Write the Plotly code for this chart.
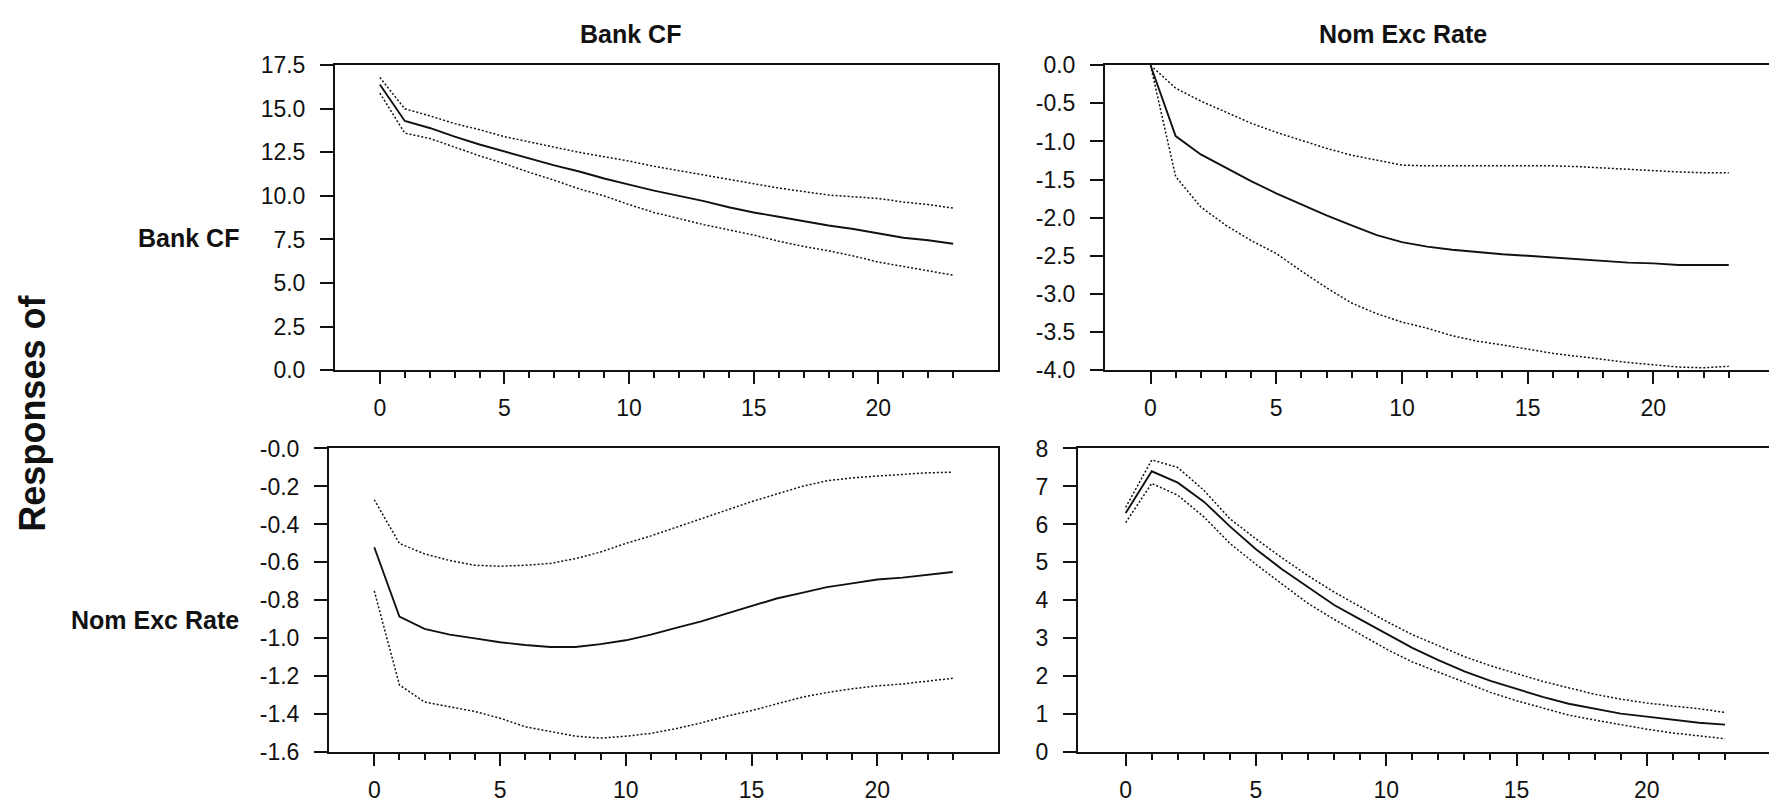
import plotly.graph_objects as go

W, H = 1769, 806

horizon = list(range(24))

# Response of Bank CF to Bank CF shock
bcf_bcf = [16.4, 14.3, 13.9, 13.4, 12.95, 12.55, 12.15, 11.75, 11.4, 11.0, 10.65, 10.3,
           10.0, 9.7, 9.35, 9.05, 8.8, 8.55, 8.3, 8.1, 7.85, 7.6, 7.45, 7.25]
bcf_bcf_hi = [16.8, 15.0, 14.6, 14.15, 13.8, 13.4, 13.1, 12.8, 12.5, 12.25, 12.0, 11.7,
              11.45, 11.2, 10.95, 10.7, 10.45, 10.25, 10.05, 9.95, 9.85, 9.65, 9.5, 9.3]
bcf_bcf_lo = [15.9, 13.6, 13.3, 12.8, 12.3, 11.85, 11.35, 10.9, 10.4, 10.0, 9.5, 9.05,
              8.7, 8.35, 8.05, 7.75, 7.4, 7.1, 6.85, 6.55, 6.2, 5.95, 5.7, 5.45]

# Response of Bank CF to Nom Exc Rate shock
bcf_ner = [0.0, -0.93, -1.17, -1.35, -1.52, -1.68, -1.83, -1.97, -2.10, -2.23, -2.32, -2.38,
           -2.42, -2.45, -2.48, -2.50, -2.52, -2.55, -2.57, -2.59, -2.60, -2.62, -2.62, -2.62]
bcf_ner_hi = [0.0, -0.30, -0.47, -0.62, -0.76, -0.88, -0.99, -1.09, -1.18, -1.25, -1.31, -1.32,
              -1.32, -1.32, -1.32, -1.32, -1.32, -1.33, -1.35, -1.36, -1.38, -1.40, -1.41, -1.41]
bcf_ner_lo = [0.0, -1.46, -1.86, -2.10, -2.30, -2.47, -2.70, -2.92, -3.12, -3.26, -3.37, -3.45,
              -3.55, -3.62, -3.67, -3.73, -3.78, -3.82, -3.86, -3.90, -3.93, -3.96, -3.97, -3.95]

# Response of Nom Exc Rate to Bank CF shock
ner_bcf = [-0.52, -0.885, -0.95, -0.98, -1.0, -1.02, -1.035, -1.045, -1.045, -1.03, -1.01, -0.98,
           -0.945, -0.91, -0.87, -0.83, -0.79, -0.76, -0.73, -0.71, -0.69, -0.68, -0.665, -0.65]
ner_bcf_hi = [-0.27, -0.50, -0.555, -0.59, -0.615, -0.62, -0.615, -0.605, -0.58, -0.545, -0.5, -0.46,
              -0.415, -0.37, -0.325, -0.28, -0.24, -0.2, -0.17, -0.155, -0.145, -0.135, -0.128, -0.125]
ner_bcf_lo = [-0.75, -1.245, -1.335, -1.36, -1.385, -1.42, -1.465, -1.49, -1.515, -1.525, -1.515, -1.5,
              -1.475, -1.445, -1.41, -1.38, -1.345, -1.31, -1.285, -1.265, -1.25, -1.24, -1.225, -1.21]

# Response of Nom Exc Rate to Nom Exc Rate shock
ner_ner = [6.3, 7.4, 7.1, 6.6, 5.95, 5.35, 4.82, 4.35, 3.88, 3.5, 3.12, 2.75,
           2.43, 2.13, 1.88, 1.66, 1.46, 1.28, 1.15, 1.02, 0.94, 0.86, 0.78, 0.73]
ner_ner_hi = [6.45, 7.7, 7.5, 6.9, 6.15, 5.62, 5.12, 4.65, 4.22, 3.83, 3.45, 3.1,
              2.8, 2.52, 2.28, 2.07, 1.87, 1.7, 1.53, 1.4, 1.3, 1.22, 1.15, 1.05]
ner_ner_lo = [6.05, 7.08, 6.77, 6.2, 5.5, 4.95, 4.43, 3.92, 3.5, 3.1, 2.72, 2.38,
              2.12, 1.84, 1.58, 1.36, 1.16, 0.98, 0.85, 0.72, 0.61, 0.51, 0.44, 0.36]

shock_names = ["Bank CF", "Nom Exc Rate"]
response_names = ["Bank CF", "Nom Exc Rate"]

tl_ticks = [0.0, 2.5, 5.0, 7.5, 10.0, 12.5, 15.0, 17.5]
tr_ticks = [0.0, -0.5, -1.0, -1.5, -2.0, -2.5, -3.0, -3.5, -4.0]
bl_ticks = [0.0, -0.2, -0.4, -0.6, -0.8, -1.0, -1.2, -1.4, -1.6]
bl_text = ["-0.0", "-0.2", "-0.4", "-0.6", "-0.8", "-1.0", "-1.2", "-1.4", "-1.6"]
br_ticks = [0, 1, 2, 3, 4, 5, 6, 7, 8]

FONT = "Arial, Liberation Sans, sans-serif"
INK = "#111111"


def px_x(p):
    return p / W


def px_y(p):
    return 1 - p / H


# panel layout in pixels: horizontal span, vertical span (top, bottom), axis ranges
panels = [
    dict(x=(335, 998), y=(54, 369), xr=[-1.8, 24.8], yr=[0, 17.5], mid=bcf_bcf, hi=bcf_bcf_hi, lo=bcf_bcf_lo,
         tv=tl_ticks, tt=[f"{v:.1f}" for v in tl_ticks], box=True),
    dict(x=(1105, 1769), y=(54, 369), xr=[-1.81, 24.6], yr=[-4, 0], mid=bcf_ner, hi=bcf_ner_hi, lo=bcf_ner_lo,
         tv=tr_ticks, tt=[f"{v:.1f}" for v in tr_ticks], box=False),
    dict(x=(329, 998), y=(450, 764), xr=[-1.8, 24.8], yr=[-1.6, 0], mid=ner_bcf, hi=ner_bcf_hi, lo=ner_bcf_lo,
         tv=bl_ticks, tt=bl_text, box=True),
    dict(x=(1078, 1769), y=(450, 764), xr=[-1.83, 24.69], yr=[0, 8], mid=ner_ner, hi=ner_ner_hi, lo=ner_ner_lo,
         tv=br_ticks, tt=[str(v) for v in br_ticks], box=False),
]

fig = go.Figure()
layout = dict(
    width=W, height=H, margin=dict(l=0, r=0, t=0, b=0),
    paper_bgcolor="white", plot_bgcolor="white", showlegend=False,
    font=dict(family=FONT, size=23, color=INK),
)

for i, p in enumerate(panels, start=1):
    xa = "xaxis" if i == 1 else f"xaxis{i}"
    ya = "yaxis" if i == 1 else f"yaxis{i}"
    xref = "x" if i == 1 else f"x{i}"
    yref = "y" if i == 1 else f"y{i}"
    layout[xa] = dict(
        domain=[px_x(p["x"][0]), px_x(p["x"][1])], range=p["xr"], anchor=yref,
        showgrid=False, zeroline=False, showline=True, linecolor=INK, linewidth=2, mirror=True,
        tickmode="array", tickvals=[0, 5, 10, 15, 20], ticks="outside", ticklen=12, tickwidth=1.5,
        tickcolor=INK, ticklabelstandoff=4,
        minor=dict(tickmode="array", tickvals=horizon, ticks="outside", ticklen=6, tickwidth=1.5,
                   tickcolor=INK, showgrid=False),
    )
    layout[ya] = dict(
        domain=[px_y(p["y"][1]), px_y(p["y"][0])], range=p["yr"], anchor=xref,
        showgrid=False, zeroline=False, showline=True, linecolor=INK, linewidth=2,
        mirror=p["box"], tickmode="array", tickvals=p["tv"], ticktext=p["tt"],
        ticks="outside", ticklen=13, tickwidth=1.5, tickcolor=INK, ticklabelstandoff=10,
    )
    for series, dash, width in ((p["hi"], "2px,2px", 1.5), (p["lo"], "2px,2px", 1.5), (p["mid"], "solid", 1.9)):
        fig.add_trace(go.Scatter(x=horizon, y=series, mode="lines", xaxis=xref, yaxis=yref,
                                 line=dict(color=INK, width=width, dash=dash)))

bold = dict(family=FONT, size=25, color=INK)
annotations = [
    dict(text=f"<b>{shock_names[0]}</b>", x=px_x(630), y=px_y(22), xref="paper", yref="paper",
         showarrow=False, font=bold, xanchor="center", yanchor="middle"),
    dict(text=f"<b>{shock_names[1]}</b>", x=px_x(1403), y=px_y(22), xref="paper", yref="paper",
         showarrow=False, font=bold, xanchor="center", yanchor="middle"),
    dict(text=f"<b>{response_names[0]}</b>", x=px_x(241), y=px_y(232), xref="paper", yref="paper",
         showarrow=False, font=bold, xanchor="right", yanchor="middle"),
    dict(text=f"<b>{response_names[1]}</b>", x=px_x(241), y=px_y(627), xref="paper", yref="paper",
         showarrow=False, font=bold, xanchor="right", yanchor="middle"),
    dict(text="<b>Responses of</b>", x=px_x(33), y=px_y(414), xref="paper", yref="paper",
         showarrow=False, textangle=-90, font=dict(family=FONT, size=36, color=INK),
         xanchor="center", yanchor="middle"),
]
layout["annotations"] = annotations

fig.update_layout(**layout)
fig.write_html("out.html")
